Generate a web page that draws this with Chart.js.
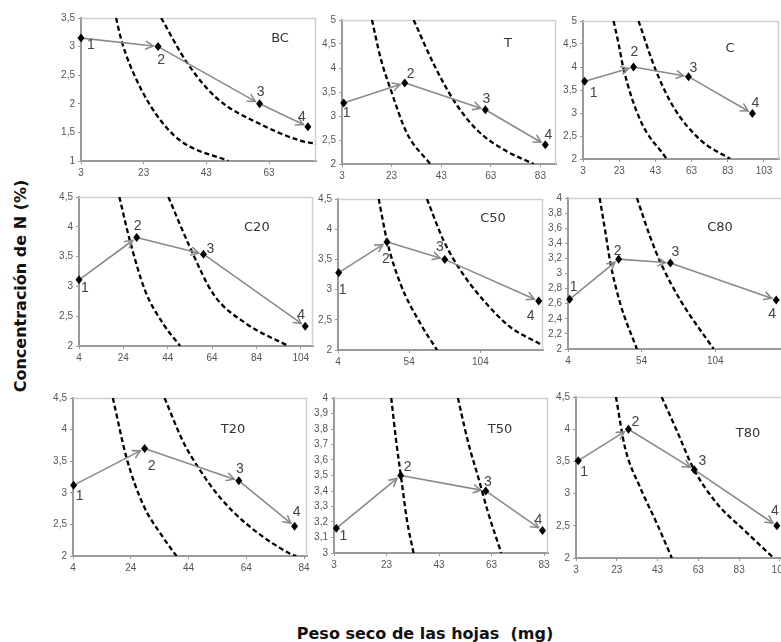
<!DOCTYPE html>
<html>
<head>
<meta charset="utf-8">
<script src="https://cdn.jsdelivr.net/npm/chart.js@4/dist/chart.umd.min.js"></script>
<style>
  html, body { margin:0; padding:0; background:#fff; }
  body { width:781px; height:642px; overflow:hidden; position:relative; }
  canvas { position:absolute; }
  .ytitle { position:absolute; left:20px; top:286px; transform:translate(-50%,-50%) rotate(-90deg);
            white-space:nowrap; font:bold 16px "DejaVu Sans", Verdana, sans-serif; color:#111; }
  .xtitle { position:absolute; left:425px; top:633px; transform:translate(-50%,-50%);
            white-space:nowrap; font:bold 16px "DejaVu Sans", Verdana, sans-serif; color:#111; }
</style>
</head>
<body>
<div class="ytitle">Concentración de N (%)</div>
<div class="xtitle">Peso seco de las hojas&nbsp; (mg)</div>
<script>
// ---------------- DATA ----------------
const panelNames = ['BC','T','C','C20','C50','C80','T20','T50','T80'];
const pointLabels = ['1','2','3','4'];

// Peso seco de las hojas (mg) and Concentración de N (%) for sampling dates 1-4
const BC_peso  = [3, 27.6, 60, 75.4];      const BC_N  = [3.15, 3.0, 2.0, 1.6];
const T_peso   = [3.7, 28.3, 60.8, 85];    const T_N   = [3.27, 3.69, 3.13, 2.4];
const C_peso   = [3.9, 30.9, 61.3, 96.6];  const C_N   = [3.69, 4.0, 3.79, 2.99];
const C20_peso = [4, 30, 60.1, 106];       const C20_N = [3.11, 3.82, 3.54, 2.33];
const C50_peso = [4.5, 38.4, 79, 145];     const C50_N = [3.28, 3.79, 3.5, 2.81];
const C80_peso = [5.1, 38.4, 73.5, 145.4]; const C80_N = [2.66, 3.19, 3.14, 2.65];
const T20_peso = [4.2, 28.8, 61.4, 80.7];  const T20_N = [3.12, 3.7, 3.19, 2.47];
const T50_peso = [3.9, 28.4, 60.8, 82.4];  const T50_N = [3.16, 3.5, 3.4, 3.145];
const T80_peso = [4.1, 28.7, 61, 101.5];   const T80_N = [3.51, 4.0, 3.37, 2.5];

// Dashed reference curves as [peso, N]
const BC_curva1  = [[14.2,3.5],[16,3.09],[20.8,2.41],[27.2,1.8],[34.6,1.36],[50,1.0]];
const BC_curva2  = [[28.6,3.5],[36.7,2.73],[46.3,2.1],[60,1.65],[72.8,1.36],[78,1.3]];
const T_curva1   = [[15.1,5],[18.5,4.22],[22.5,3.57],[29.2,2.64],[38.6,2.0]];
const T_curva2   = [[31.9,5],[40,4.08],[48,3.33],[57.4,2.71],[68.2,2.3],[80.3,2.0]];
const C_curva1   = [[19.9,5],[22.7,4.5],[25.4,3.96],[34.6,2.85],[49.3,2.0]];
const C_curva2   = [[33.7,5],[42.9,3.96],[53,3.13],[67.7,2.42],[84.3,2.0]];
const C20_curva1 = [[22.2,4.5],[27,3.76],[33.8,2.93],[42,2.37],[49.6,2.0]];
const C20_curva2 = [[44.3,4.5],[54.1,3.65],[64.6,2.87],[79.6,2.37],[98.4,2.0]];
const C50_curva1 = [[32.6,4.5],[38.4,3.81],[47.8,3.1],[61.8,2.44],[73.6,2.0]];
const C50_curva2 = [[66.5,4.5],[78.2,3.81],[90,3.32],[106.3,2.82],[125,2.38],[146,2.1]];
const C80_curva1 = [[25.5,4],[29.3,3.56],[32.7,3.15],[39.5,2.6],[50.8,2.0]];
const C80_curva2 = [[50.8,4],[59.9,3.48],[66.7,3.15],[80.2,2.65],[102.9,2.0]];
const T20_curva1 = [[17.8,4.5],[22.5,3.56],[28.2,2.82],[35.1,2.3],[39.8,2.0]];
const T20_curva2 = [[35.7,4.5],[42,3.82],[47.8,3.37],[54.8,2.93],[64,2.51],[79,2.04],[81.3,2.0]];
const T50_curva1 = [[24.8,4],[26.7,3.72],[28.7,3.47],[30.8,3.21],[33.3,3.0]];
const T50_curva2 = [[50.2,4],[54,3.72],[57.9,3.49],[61.7,3.26],[66.7,3.0]];
const T80_curva1 = [[22.6,4.5],[27,3.72],[34.4,3.1],[42.6,2.54],[50,2.0]];
const T80_curva2 = [[45,4.5],[52.4,3.98],[60.6,3.39],[72,2.85],[85.2,2.44],[99.9,2.0]];

// Tick labels
const BC_xTicks  = [3,23,43,63];           const BC_yTicks  = [1,1.5,2,2.5,3,3.5];
const T_xTicks   = [3,23,43,63,83];        const T_yTicks   = [2,2.5,3,3.5,4,4.5,5];
const C_xTicks   = [3,23,43,63,83,103];    const C_yTicks   = [2,2.5,3,3.5,4,4.5,5];
const C20_xTicks = [4,24,44,64,84,104];    const C20_yTicks = [2,2.5,3,3.5,4,4.5];
const C50_xTicks = [4,54,104];             const C50_yTicks = [2,2.5,3,3.5,4,4.5];
const C80_xTicks = [4,54,104];             const C80_yTicks = [2,2.2,2.4,2.6,2.8,3,3.2,3.4,3.6,3.8,4];
const T20_xTicks = [4,24,44,64,84];        const T20_yTicks = [2,2.5,3,3.5,4,4.5];
const T50_xTicks = [3,23,43,63,83];        const T50_yTicks = [3,3.1,3.2,3.3,3.4,3.5,3.6,3.7,3.8,3.9,4];
const T80_xTicks = [3,23,43,63,83,103];    const T80_yTicks = [2,2.5,3,3.5,4,4.5];
const xMaxima = [78, 89.3, 111.3, 109.5, 148, 150, 85, 84.5, 105];

// ---------------- LAYOUT (positions / styles) ----------------
const boxes = [ // plot area: left, top, right, bottom
  [81,17,316,161],[342,19,556,164],[583,20,779,159],
  [79,196,313,346],[338,198,543,350],[568,197,783,349],
  [73,397,307,556],[334,397,548,553],[576,396,784,558]
];
const titlePos = [[0.847,0.146],[0.776,0.166],[0.75,0.2],[0.76,0.207],[0.756,0.13],[0.707,0.197],[0.684,0.2],[0.776,0.205],[0.827,0.228]];
const labelOffsets = [
  [[10,7],[3,14],[1,-12],[-6,-10]],
  [[3,10],[6,-9],[1,-11],[3,-10]],
  [[9,12],[1,-15],[5,-9],[3,-10]],
  [[6,8],[1,-11],[7,-5],[-4,-11]],
  [[4,17],[-1,17],[-5,-12],[-8,15]],
  [[4,-12],[-1,-8],[5,-11],[-4,14]],
  [[6,11],[7,18],[1,-12],[2,-14]],
  [[7,8],[7,-8],[2,-9],[-4,-10]],
  [[6,11],[7,-7],[8,-9],[-2,-15]]
];

const dataSets = {
  BC:[BC_peso,BC_N,BC_curva1,BC_curva2,BC_xTicks,BC_yTicks],
  T:[T_peso,T_N,T_curva1,T_curva2,T_xTicks,T_yTicks],
  C:[C_peso,C_N,C_curva1,C_curva2,C_xTicks,C_yTicks],
  C20:[C20_peso,C20_N,C20_curva1,C20_curva2,C20_xTicks,C20_yTicks],
  C50:[C50_peso,C50_N,C50_curva1,C50_curva2,C50_xTicks,C50_yTicks],
  C80:[C80_peso,C80_N,C80_curva1,C80_curva2,C80_xTicks,C80_yTicks],
  T20:[T20_peso,T20_N,T20_curva1,T20_curva2,T20_xTicks,T20_yTicks],
  T50:[T50_peso,T50_N,T50_curva1,T50_curva2,T50_xTicks,T50_yTicks],
  T80:[T80_peso,T80_N,T80_curva1,T80_curva2,T80_xTicks,T80_yTicks]
};

const PADL = 32, PADT = 8, PADR = 8, PADB = 22;
const tickFont = { family: "'Liberation Sans Narrow','Liberation Sans',Arial,sans-serif", size: 10 };
const fmt = v => String(v).replace('.', ',');

const framePlugin = {
  id: 'frame',
  beforeDatasetsDraw(chart) {
    const a = chart.chartArea, ctx = chart.ctx;
    ctx.save();
    ctx.strokeStyle = '#cfcfcf'; ctx.lineWidth = 1.5;
    ctx.beginPath();
    ctx.moveTo(a.left, a.top + 0.5); ctx.lineTo(a.right - 0.5, a.top + 0.5); ctx.lineTo(a.right - 0.5, a.bottom);
    ctx.stroke();
    ctx.restore();
  }
};

const arrowPlugin = {
  id: 'arrows',
  afterDatasetsDraw(chart, args, opts) {
    const ctx = chart.ctx, xs = chart.scales.x, ys = chart.scales.y;
    const px = opts.peso.map(v => xs.getPixelForValue(v));
    const py = opts.N.map(v => ys.getPixelForValue(v));
    ctx.save();
    ctx.strokeStyle = '#8a8a8a'; ctx.lineWidth = 1.6; ctx.lineCap = 'round';
    for (let i = 0; i < px.length - 1; i++) {
      const dx = px[i+1] - px[i], dy = py[i+1] - py[i];
      const L = Math.hypot(dx, dy), ux = dx / L, uy = dy / L;
      const sx = px[i] + ux * 3, sy = py[i] + uy * 3;
      const ex = px[i+1] - ux * 5, ey = py[i+1] - uy * 5;
      ctx.beginPath(); ctx.moveTo(sx, sy); ctx.lineTo(ex, ey); ctx.stroke();
      const ang = Math.atan2(dy, dx), hl = 8, ha = 0.5;
      ctx.beginPath();
      ctx.moveTo(ex - hl * Math.cos(ang - ha), ey - hl * Math.sin(ang - ha));
      ctx.lineTo(ex, ey);
      ctx.lineTo(ex - hl * Math.cos(ang + ha), ey - hl * Math.sin(ang + ha));
      ctx.stroke();
    }
    // diamonds on top
    ctx.fillStyle = '#000';
    for (let i = 0; i < px.length; i++) {
      ctx.beginPath();
      ctx.moveTo(px[i], py[i] - 4.5); ctx.lineTo(px[i] + 3.5, py[i]);
      ctx.lineTo(px[i], py[i] + 4.5); ctx.lineTo(px[i] - 3.5, py[i]);
      ctx.closePath(); ctx.fill();
    }
    // point labels
    ctx.fillStyle = '#444';
    ctx.font = "14px 'Liberation Sans Narrow','Liberation Sans',Arial,sans-serif";
    ctx.textAlign = 'center'; ctx.textBaseline = 'middle';
    for (let i = 0; i < px.length; i++) {
      const o = opts.offsets[i];
      ctx.fillText(pointLabels[i], px[i] + o[0], py[i] + o[1]);
    }
    // panel title
    const a = chart.chartArea;
    ctx.fillStyle = '#333';
    ctx.font = "13px 'DejaVu Sans', Verdana, sans-serif";
    ctx.fillText(opts.title, a.left + opts.tpos[0] * (a.right - a.left), a.top + opts.tpos[1] * (a.bottom - a.top));
    ctx.restore();
  }
};

panelNames.forEach((name, k) => {
  const [peso, N, c1, c2, xT, yT] = dataSets[name];
  const [l, t, r, b] = boxes[k];
  const cv = document.createElement('canvas');
  const W = (r - l) + PADL + PADR, H = (b - t) + PADT + PADB;
  cv.width = W; cv.height = H;
  cv.style.left = (l - PADL) + 'px'; cv.style.top = (t - PADT) + 'px';
  cv.style.width = W + 'px'; cv.style.height = H + 'px';
  document.body.appendChild(cv);

  const curveDS = pts => ({
    type: 'line',
    data: pts.map(p => ({ x: p[0], y: p[1] })),
    borderColor: '#000', borderWidth: 2.3, borderDash: [5, 3],
    pointRadius: 0, fill: false, cubicInterpolationMode: 'monotone'
  });

  new Chart(cv, {
    type: 'scatter',
    data: {
      datasets: [
        { data: peso.map((v, i) => ({ x: v, y: N[i] })), pointRadius: 0, showLine: false },
        curveDS(c1), curveDS(c2)
      ]
    },
    options: {
      responsive: false, animation: false, devicePixelRatio: 1,
      layout: { padding: { left: 0, top: PADT, right: PADR, bottom: 0 } },
      plugins: {
        legend: { display: false }, tooltip: { enabled: false },
        arrows: { peso, N, offsets: labelOffsets[k], title: name, tpos: titlePos[k] }
      },
      scales: {
        x: {
          type: 'linear', min: xT[0], max: xMaxima[k],
          afterBuildTicks: s => { s.ticks = xT.map(v => ({ value: v })); },
          afterFit: s => { s.height = PADB; },
          ticks: { autoSkip: false, maxRotation: 0, font: tickFont, color: '#555', padding: 3 },
          grid: { drawOnChartArea: false, drawTicks: true, tickLength: 3, color: '#9a9a9a' },
          border: { color: '#9a9a9a', width: 2 }
        },
        y: {
          type: 'linear', min: yT[0], max: yT[yT.length - 1],
          afterBuildTicks: s => { s.ticks = yT.map(v => ({ value: v })); },
          afterFit: s => { s.width = PADL; },
          ticks: { autoSkip: false, font: tickFont, color: '#555', padding: 3, callback: v => fmt(v) },
          grid: { drawOnChartArea: false, drawTicks: true, tickLength: 3, color: '#9a9a9a' },
          border: { color: '#9a9a9a', width: 2 }
        }
      }
    },
    plugins: [framePlugin, arrowPlugin]
  });
});
</script>
</body>
</html>
